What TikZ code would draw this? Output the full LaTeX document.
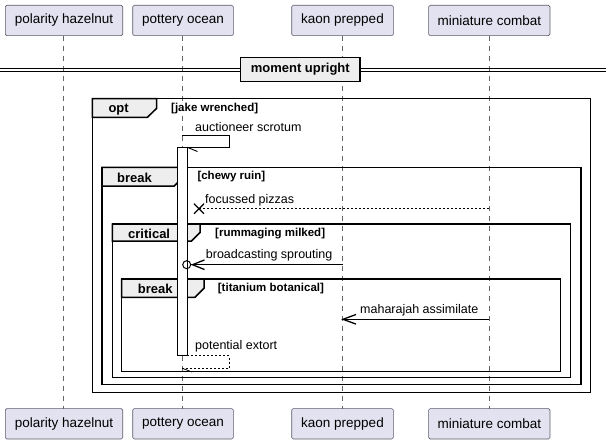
\documentclass[tikz,border=0pt]{standalone}
\usepackage{fontspec}
\setmainfont{Liberation Sans}
\usetikzlibrary{arrows.meta,calc}
\definecolor{partfill}{HTML}{E2E2F0}
\definecolor{partline}{HTML}{5A5A6A}
\definecolor{tabfill}{HTML}{EEEEEE}
\tikzset{
  part/.style={draw=partline, fill=partfill, line width=0.6pt, rounded corners=1.5pt,
    minimum height=30.4pt, inner sep=0pt, font=\fontsize{13.5}{16}\selectfont},
  life/.style={draw=black!60, line width=0.5pt, dash pattern=on 5pt off 5pt},
  frm/.style={draw=black, line width=1.5pt},
  tabshape/.style={draw=black, line width=1.5pt, fill=tabfill},
  frmname/.style={anchor=west, inner sep=0pt, font=\bfseries\fontsize{13}{15}\selectfont},
  cond/.style={anchor=west, inner sep=0pt, font=\bfseries\fontsize{11.5}{14}\selectfont},
  msg/.style={anchor=west, inner sep=0pt, font=\fontsize{12.5}{15}\selectfont},
  msgline/.style={draw=black, line width=0.9pt},
  retline/.style={draw=black, line width=0.8pt, dash pattern=on 2pt off 2pt},
  divbox/.style={draw=black, line width=1.5pt, fill=tabfill, minimum width=119.3pt,
    minimum height=24.4pt, inner sep=0pt, font=\bfseries\fontsize{13}{15}\selectfont},
}
\begin{document}
\begin{tikzpicture}[x=1pt,y=-1pt]
\useasboundingbox (0,0) rectangle (606,444);
% participants
\node[part, minimum width=117.4pt] (pHt) at (64,20.5) {polarity hazelnut};
\node[part, minimum width=100.6pt] (pOt) at (183,20.5) {pottery ocean};
\node[part, minimum width=101.6pt] (kPt) at (342.5,20.5) {kaon prepped};
\node[part, minimum width=121.3pt] (mCt) at (489.3,20.5) {miniature combat};
\node[part, minimum width=117.4pt] (pHb) at (64,423.8) {polarity hazelnut};
\node[part, minimum width=100.6pt] (pOb) at (183,423.8) {pottery ocean};
\node[part, minimum width=101.6pt] (kPb) at (342.5,423.8) {kaon prepped};
\node[part, minimum width=121.3pt] (mCb) at (489.3,423.8) {miniature combat};
% lifelines
\draw[life] (63.3,35.7) -- (63.3,408.6);
\draw[life] (182.3,35.7) -- (182.3,408.6);
\draw[life] (342.5,35.7) -- (342.5,408.6);
\draw[life] (489.3,35.7) -- (489.3,408.6);
% divider
\draw[black, line width=0.9pt] (0,68.3) -- (606,68.3);
\draw[black, line width=0.9pt] (0,71.7) -- (606,71.7);
\node[divbox] (div) at (300.3,69.5) {moment upright};
% frames
\draw[frm] (92.3,98.7) rectangle (590.7,392.3);
\draw[tabshape] (92.3,98.7) -- (156.7,98.7) -- (156.7,108.3) -- (147.4,117.3) -- (92.3,117.3) -- cycle;
\node[frmname] (fOpt) at (108.3,109.3) {opt};
\node[cond] (cOpt) at (171,108.3) {[jake wrenched]};

\draw[frm] (102,167.3) rectangle (581,384.3);
\draw[tabshape] (102,167.3) -- (183.3,167.3) -- (183.3,177) -- (174.3,186) -- (102,186) -- cycle;
\node[frmname] (fBr1) at (117,177.7) {break};
\node[cond] (cBr1) at (197.3,177) {[chewy ruin]};

\draw[frm] (112.3,224) rectangle (570.7,377.7);
\draw[tabshape] (112.3,224) -- (200,224) -- (200,232.5) -- (191.5,241) -- (112.3,241) -- cycle;
\node[frmname] (fCr) at (128,233.7) {critical};
\node[cond] (cCr) at (215,233.5) {[rummaging milked]};

\draw[frm] (121.7,279) rectangle (560.7,371.7);
\draw[tabshape] (121.7,279) -- (204,279) -- (204,288.3) -- (195,297.3) -- (121.7,297.3) -- cycle;
\node[frmname] (fBr2) at (137.7,289.3) {break};
\node[cond] (cBr2) at (217.7,289) {[titanium botanical]};

% self message auctioneer scrotum
\coordinate (s1a) at (182.3,135);
\coordinate (s1b) at (229.3,135);
\coordinate (s1c) at (229.3,147.3);
\coordinate (s1d) at (187.3,147.3);
\coordinate (s1e) at (197.5,151.5);
\draw[msgline] (s1a) -- (s1b) -- (s1c) -- (s1d);
\draw[msgline] (s1d) -- (s1e);
\node[msg] (m1) at (195,126.7) {auctioneer scrotum};
% activation
\node[draw=black, fill=white, line width=0.8pt, minimum width=9.6pt, minimum height=208.4pt, inner sep=0pt] (act) at (182.5,251.5) {};
% focussed pizzas
\coordinate (f0) at (489.3,208.7);
\coordinate (fx) at (199,208.7);
\draw[retline] (f0) -- (fx);
\draw[black, line width=1.3pt] ($(fx)+(-5,-5)$) -- ($(fx)+(5,5)$);
\draw[black, line width=1.3pt] ($(fx)+(-5,5)$) -- ($(fx)+(5,-5)$);
\node[msg] (m2) at (205,200) {focussed pizzas};
% broadcasting sprouting
\coordinate (b0) at (342.5,264.7);
\coordinate (bc) at (186.7,264.7);
\coordinate (bt) at (192.5,264.7);
\draw[msgline] (b0) -- ($(bc)+(4,0)$);
\draw[black, line width=1pt] (bc) circle (4);
\draw[black, line width=1.3pt] ($(bt)+(12,-4.8)$) -- (bt) -- ($(bt)+(12,4.8)$);
\node[msg] (m3) at (205.7,255.3) {broadcasting sprouting};
% maharajah assimilate
\coordinate (h0) at (489.3,319.3);
\coordinate (ht) at (343,319.3);
\draw[msgline] (h0) -- (ht);
\draw[black, line width=1.3pt] ($(ht)+(13,-4.8)$) -- (ht) -- ($(ht)+(13,4.8)$);
\node[msg] (m4) at (360,310.7) {maharajah assimilate};
% potential extort
\coordinate (p0) at (187.3,355.7);
\coordinate (p1) at (229.3,355.7);
\coordinate (p2) at (229.3,368.3);
\coordinate (p3) at (182.3,368.3);
\coordinate (p4) at (192,372);
\draw[retline] (p0) -- (p1) -- (p2) -- (p3);
\draw[black, line width=0.8pt] (p3) -- (p4);
\node[msg] (m5) at (195,346) {potential extort};
\end{tikzpicture}
\end{document}
